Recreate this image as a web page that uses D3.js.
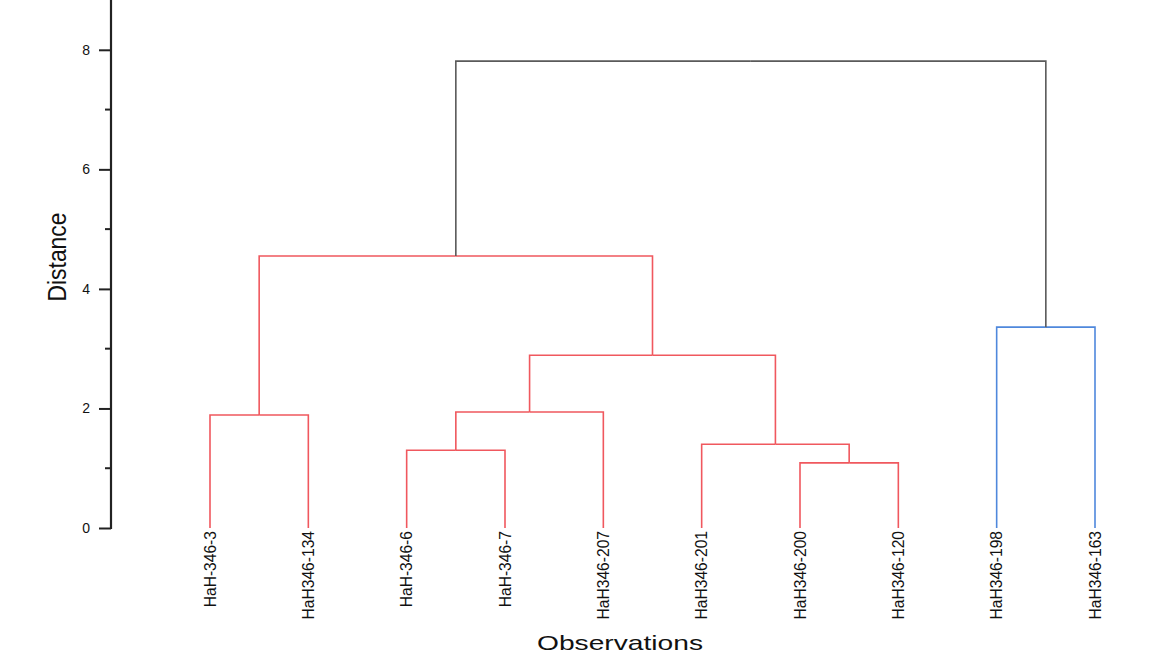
<!DOCTYPE html>
<html><head><meta charset="utf-8">
<script src="https://cdn.jsdelivr.net/npm/d3@7"></script>
<style>body{margin:0;background:#fff}svg{display:block}</style>
</head><body>
<svg id="c" width="1164" height="656"></svg>
<script>
const leaves = ["HaH-346-3","HaH346-134","HaH-346-6","HaH-346-7","HaH346-207","HaH346-201","HaH346-200","HaH346-120","HaH346-198","HaH346-163"];
// linkage: [left index, right index, height, cluster colour]
const mergeLeft   = [0, 2, 11, 6, 5, 12, 10, 8, 16];
const mergeRight  = [1, 3, 4, 7, 13, 14, 15, 9, 17];
const mergeHeight = [1.89, 1.30, 1.94, 1.09, 1.40, 2.89, 4.55, 3.36, 7.81];
const mergeGroup  = ["A","A","A","A","A","A","A","B","root"];
const leafGroup   = ["A","A","A","A","A","A","A","A","B","B"];
const majorTicks = [0,2,4,6,8];
const minorTicks = [1,3,5,7];

const colors = {A:"#f0585e", B:"#4f88dc", root:"#5a5a5a"};
const svg = d3.select("#c");
const x = d3.scalePoint().domain(leaves).range([210,1095]);
const y = d3.scaleLinear().domain([0,8]).range([528,49.8]);

// node positions
const nodes = leaves.map((l,i)=>({x:x(l), h:0, g:leafGroup[i]}));
mergeLeft.forEach((l,i)=>{
  const a = nodes[l], b = nodes[mergeRight[i]];
  nodes.push({x:(a.x+b.x)/2, h:mergeHeight[i], g:mergeGroup[i], a, b});
});
const g = svg.append("g").attr("fill","none").attr("stroke-width",1.6);
nodes.filter(n=>n.a).forEach(n=>{
  [n.a,n.b].forEach(c=>{
    g.append("path")
      .attr("d", `M${c.x},${y(c.h)}V${y(n.h)}H${n.x}`)
      .attr("stroke", colors[n.g==="root"?"root":c.g]);
  });
});

// axis
const ax = svg.append("g").attr("transform","translate(111,0)");
ax.call(d3.axisLeft(y).tickValues(majorTicks).tickSize(12).tickPadding(9).tickFormat(d3.format("d")));
ax.select(".domain").remove();
ax.selectAll(".tick line").attr("stroke","#222").attr("stroke-width",2);
ax.selectAll(".tick text").attr("font-family","Liberation Sans, Arial, sans-serif").attr("font-size",14).attr("fill","#111");
ax.selectAll(".minor").data(minorTicks).enter().append("line").attr("class","minor")
  .attr("x1",-6).attr("x2",0).attr("y1",d=>y(d)).attr("y2",d=>y(d)).attr("stroke","#222").attr("stroke-width",2);
ax.append("line").attr("x1",0).attr("x2",0).attr("y1",0).attr("y2",y(0)+1).attr("stroke","#222").attr("stroke-width",2.2);

// leaf labels
svg.append("g").selectAll("text").data(leaves).enter().append("text")
  .attr("transform",d=>`translate(${x(d)+5.5},531) rotate(-90)`)
  .attr("text-anchor","end")
  .attr("font-family","Liberation Sans, Arial, sans-serif").attr("font-size",15.6).attr("fill","#111")
  .text(d=>d);

// axis titles
svg.append("text").attr("transform","translate(66,257) rotate(-90)")
  .attr("text-anchor","middle").attr("font-family","Liberation Sans, Arial, sans-serif")
  .attr("font-size",25).attr("textLength",89).attr("lengthAdjust","spacingAndGlyphs").attr("fill","#111").text("Distance");
svg.append("text").attr("x",620).attr("y",650)
  .attr("text-anchor","middle").attr("font-family","Liberation Sans, Arial, sans-serif")
  .attr("font-size",21).attr("textLength",166).attr("lengthAdjust","spacingAndGlyphs").attr("fill","#111").text("Observations");
</script>
</body></html>
